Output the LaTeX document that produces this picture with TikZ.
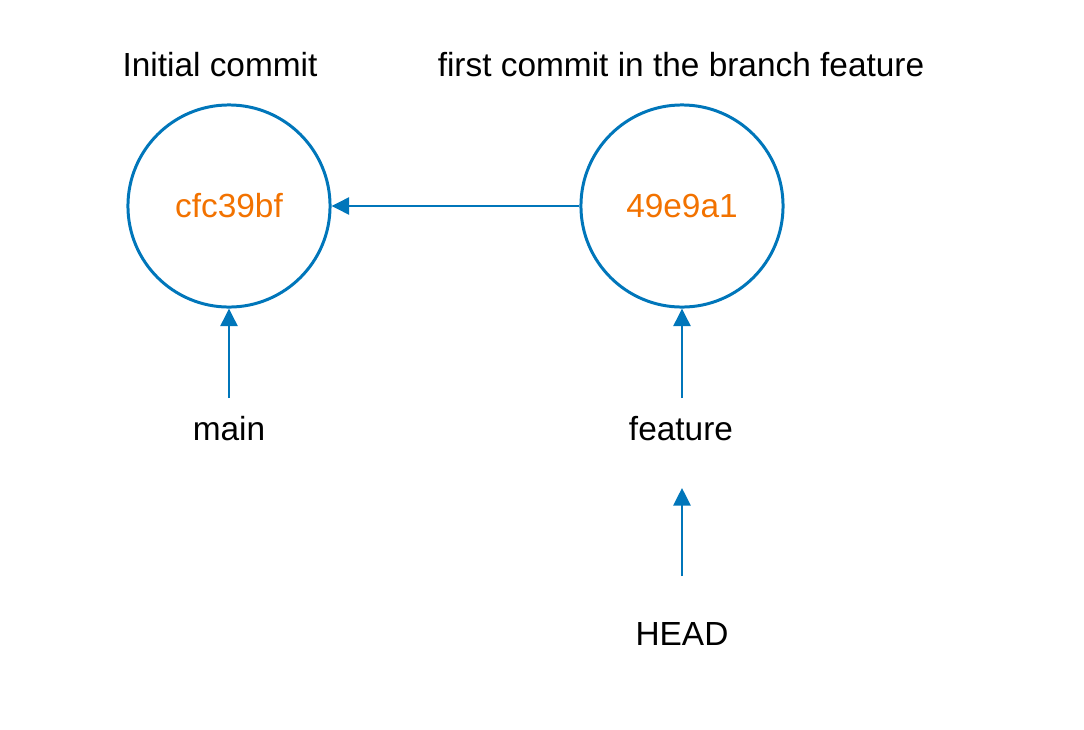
\documentclass[tikz,border=0pt]{standalone}
\usepackage{fontspec}
\setmainfont{Liberation Sans}
\usetikzlibrary{arrows.meta}
\definecolor{gitblue}{HTML}{0076BA}
\definecolor{gitorange}{HTML}{F27200}
\tikzset{
	commit/.style={circle,draw=gitblue,line width=.85pt,minimum size=2.02cm,inner sep=0pt,
		text=gitorange,font=\fontsize{9.5}{11}\selectfont},
	tag/.style={font=\fontsize{9.5}{11}\selectfont},
	link/.style={draw=gitblue,line width=.85pt,-{Triangle[length=5pt,width=4.8pt]}}
}
\begin{document}
\begin{tikzpicture}[x=.01cm,y=-.01cm]
	\useasboundingbox (0,0) rectangle (1084,730);
	% commits
	\node[commit] (cfc) at (229,206) {cfc39bf};
	\node[commit] (feat) at (682,206) {49e9a1};
	\node[tag,anchor=base] (cfctitle) at (220,76) {Initial commit};
	\node[tag,anchor=base] (feattitle) at (681,76) {first commit in the branch feature};
	% branches
	\node[tag,anchor=base] (main) at (229,440) {main};
	\node[tag,anchor=base] (feature) at (681,440) {feature};
	\node[tag,anchor=base] (head) at (682,645) {HEAD};
	\draw[link] (feat) -- (cfc);
	\draw[link,shorten <=1.5pt] (main.north -| cfc) -- (cfc);
	\draw[link,shorten <=1.5pt] (feature.north -| feat) -- (feat);
	\draw[link,shorten <=9.5pt,shorten >=10pt] (head.north -| feat) -- (feature.south -| feat);
\end{tikzpicture}
\end{document}
